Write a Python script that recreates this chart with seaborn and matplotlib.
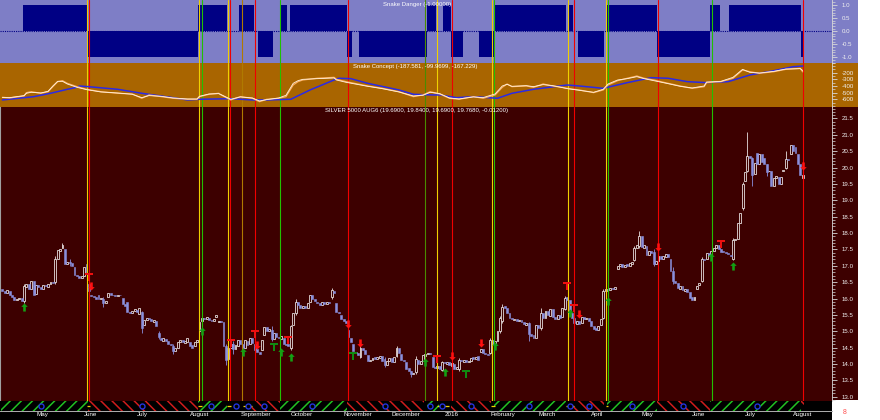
import numpy as np
import pandas as pd
import matplotlib
matplotlib.use("Agg")
import matplotlib.pyplot as plt
from matplotlib.path import Path
from matplotlib.patches import Rectangle
from matplotlib.ticker import MultipleLocator, FixedLocator, FuncFormatter
import seaborn as sns

# ------------------------------------------------------------------ data
start_date = "2015-04-13"
end_date = "2016-08-05"
holidays = ["2015-05-25", "2015-07-03", "2015-09-07", "2015-11-26", "2015-12-25",
            "2016-01-01", "2016-01-18", "2016-02-15", "2016-03-25", "2016-05-30",
            "2016-07-04"]
month_labels = ["May", "June", "July", "August", "September", "October", "November",
                "December", "2016", "February", "March", "April", "May", "June",
                "July", "August"]

opens = [
    16.28, 16.22, 16.18, 16.24, 16.12, 16.05, 15.95, 15.98, 16.02, 15.92,
    16.36, 16.45, 16.3, 16.55, 16.15, 16.42, 16.35, 16.28, 16.4, 16.36,
    16.45, 16.52, 16.5, 17.2, 17.45, 17.55, 17.5, 17.05, 17.12, 17.08,
    16.95, 16.72, 16.68, 16.62, 16.7, 17.05, 16.45, 16.12, 16.08, 16.05,
    16.1, 15.98, 16.0, 15.86, 16.05, 16.18, 16.12, 16.1, 16.08, 16.12,
    16.02, 15.82, 15.9, 15.6, 15.55, 15.62, 15.66, 15.52, 15.6, 15.2,
    15.35, 15.42, 15.38, 15.28, 15.3, 14.95, 14.8, 14.7, 14.76, 14.7,
    14.62, 14.56, 14.4, 14.5, 14.66, 14.72, 14.64, 14.68, 14.66, 14.58,
    14.55, 14.68, 15.02, 15.3, 15.42, 15.38, 15.42, 15.35, 15.32, 15.45,
    15.28, 15.32, 15.28, 14.55, 14.15, 14.48, 14.62, 14.45, 14.55, 14.72,
    14.62, 14.5, 14.7, 14.6, 14.78, 14.6, 14.45, 14.38, 14.42, 14.9,
    15.12, 15.0, 15.05, 14.75, 14.95, 14.82, 14.76, 14.8, 14.62, 14.6,
    14.48, 15.2, 15.55, 15.9, 15.8, 15.7, 15.78, 15.72, 15.88, 16.1,
    15.98, 15.9, 15.85, 15.8, 15.88, 15.84, 15.9, 16.05, 16.22, 15.85,
    15.6, 15.5, 15.38, 15.32, 15.05, 14.8, 14.6, 14.38, 14.35, 14.22,
    14.5, 14.42, 14.28, 14.08, 14.12, 14.2, 14.15, 14.18, 14.25, 14.15,
    13.98, 14.08, 14.18, 14.05, 14.25, 14.48, 14.3, 14.12, 14.05, 13.88,
    13.78, 13.7, 13.75, 14.12, 14.0, 14.08, 14.25, 14.3, 14.35, 14.22,
    13.92, 13.88, 13.95, 13.82, 14.05, 14.0, 14.06, 13.95, 14.0, 13.85,
    13.85, 14.12, 14.06, 14.12, 14.05, 14.1, 14.2, 14.15, 14.25, 14.38,
    14.45, 14.35, 14.3, 14.35, 14.72, 14.58, 14.7, 15.0, 15.3, 15.78,
    15.72, 15.55, 15.4, 15.34, 15.38, 15.32, 15.35, 15.28, 15.2, 15.25,
    14.92, 14.88, 14.8, 15.2, 15.1, 15.55, 15.4, 15.62, 15.48, 15.68,
    15.45, 15.38, 15.5, 15.45, 15.68, 16.05, 15.95, 15.55, 15.4, 15.22,
    15.3, 15.25, 15.45, 15.36, 15.4, 15.3, 15.15, 15.1, 15.05, 15.2,
    15.42, 16.22, 16.3, 16.25, 16.32, 16.28, 16.9, 17.0, 17.05, 16.95,
    17.04, 17.0, 17.05, 17.18, 17.55, 17.6, 17.9, 17.55, 17.6, 17.32,
    17.45, 17.42, 17.05, 17.15, 17.3, 17.22, 17.28, 17.35, 17.2, 16.85,
    16.55, 16.48, 16.3, 16.38, 16.22, 16.3, 16.2, 16.05, 15.95, 16.3,
    16.4, 16.55, 17.22, 17.2, 17.38, 17.32, 17.45, 17.55, 17.62, 17.5,
    17.45, 17.42, 17.38, 17.33, 17.22, 17.78, 17.82, 18.3, 18.75, 19.6,
    19.9, 20.35, 20.3, 19.8, 20.45, 20.1, 20.42, 20.3, 20.1, 19.88,
    19.9, 19.45, 19.68, 19.72, 19.5, 19.9, 19.98, 20.25, 20.4, 20.68,
    20.62, 20.42, 20.12, 19.69,
]
closes = [
    16.22, 16.18, 16.25, 16.12, 16.05, 15.95, 15.98, 16.02, 15.92, 16.38,
    16.45, 16.3, 16.55, 16.12, 16.42, 16.35, 16.28, 16.4, 16.38, 16.45,
    16.52, 16.48, 17.22, 17.48, 17.5, 17.62, 17.05, 17.12, 17.08, 17.0,
    16.72, 16.68, 16.62, 16.7, 16.95, 16.82, 16.22, 16.08, 16.05, 16.0,
    15.98, 16.02, 15.85, 15.92, 16.18, 16.12, 16.1, 16.08, 16.12, 16.1,
    15.82, 15.78, 15.6, 15.55, 15.62, 15.68, 15.6, 15.72, 15.1, 15.35,
    15.42, 15.38, 15.3, 15.35, 15.15, 14.82, 14.72, 14.78, 14.7, 14.62,
    14.58, 14.4, 14.48, 14.68, 14.72, 14.66, 14.7, 14.78, 14.55, 14.5,
    14.68, 14.72, 15.28, 15.42, 15.38, 15.44, 15.35, 15.3, 15.38, 15.5,
    15.32, 15.28, 14.55, 14.12, 14.5, 14.62, 14.45, 14.58, 14.72, 14.6,
    14.5, 14.72, 14.58, 14.78, 14.65, 14.42, 14.38, 14.3, 14.72, 15.12,
    15.0, 15.08, 14.75, 14.95, 14.82, 14.78, 14.85, 14.62, 14.58, 14.55,
    15.15, 15.55, 15.88, 15.8, 15.72, 15.78, 15.7, 15.85, 16.12, 15.98,
    15.92, 15.85, 15.8, 15.88, 15.82, 15.9, 15.86, 16.25, 16.18, 15.6,
    15.55, 15.38, 15.3, 15.25, 14.82, 14.68, 14.4, 14.35, 14.28, 14.5,
    14.42, 14.3, 14.08, 14.12, 14.18, 14.15, 14.2, 14.25, 14.1, 13.98,
    14.08, 14.18, 14.05, 14.22, 14.48, 14.35, 14.12, 14.08, 13.85, 13.78,
    13.68, 13.72, 14.15, 14.0, 14.1, 14.28, 14.32, 14.35, 14.3, 13.9,
    13.88, 13.95, 13.85, 14.05, 14.02, 14.06, 13.98, 14.02, 13.85, 13.9,
    14.12, 14.08, 14.12, 14.05, 14.1, 14.18, 14.15, 14.22, 14.12, 14.45,
    14.35, 14.3, 14.28, 14.72, 14.6, 14.7, 15.0, 15.42, 15.75, 15.72,
    15.55, 15.4, 15.36, 15.38, 15.3, 15.35, 15.28, 15.22, 15.25, 14.92,
    14.85, 14.78, 15.2, 15.1, 15.55, 15.42, 15.62, 15.5, 15.68, 15.45,
    15.38, 15.5, 15.42, 15.7, 16.02, 15.95, 15.55, 15.4, 15.25, 15.3,
    15.22, 15.45, 15.38, 15.4, 15.32, 15.15, 15.08, 15.05, 15.15, 15.38,
    16.22, 16.3, 16.25, 16.32, 16.28, 16.34, 17.0, 17.05, 16.95, 17.02,
    17.0, 17.08, 17.12, 17.55, 17.62, 17.92, 17.58, 17.62, 17.32, 17.45,
    17.4, 17.05, 17.15, 17.3, 17.22, 17.3, 17.35, 17.28, 16.85, 16.55,
    16.48, 16.32, 16.38, 16.25, 16.28, 16.2, 16.02, 15.95, 16.05, 16.38,
    16.48, 17.22, 17.18, 17.38, 17.32, 17.45, 17.55, 17.62, 17.5, 17.42,
    17.42, 17.38, 17.35, 17.3, 17.78, 17.82, 18.3, 18.6, 19.5, 19.85,
    20.35, 20.28, 19.78, 20.15, 20.1, 20.42, 20.18, 20.12, 19.85, 19.9,
    19.45, 19.68, 19.75, 19.5, 19.72, 19.92, 20.25, 20.22, 20.68, 20.5,
    20.45, 20.12, 19.78, 19.768,
]
# bars with visible wicks
wick_bars = [9, 22, 25, 28, 42, 58, 65, 71, 93, 96, 105, 112, 120, 122, 137, 144,
             149, 159, 164, 170, 172, 183, 190, 203, 207, 208, 219, 224, 234, 250,
             263, 265, 271, 279, 291, 304, 308, 310, 312, 318, 326, 333]
wick_highs = [16.45, 17.3, 17.7, 17.2, 16.05, 15.62, 15.0, 14.6, 14.6, 14.7, 14.65,
              15.15, 15.2, 15.98, 16.32, 15.1, 14.55, 14.22, 14.55, 13.8, 14.25,
              14.1, 14.18, 14.78, 15.48, 15.82, 15.28, 15.7, 16.08, 16.28, 17.6,
              18.05, 17.5, 16.95, 17.28, 17.85, 19.55, 21.1, 20.32, 20.12, 20.5,
              19.84]
wick_lows = [15.85, 16.45, 17.55, 17.0, 15.75, 14.95, 14.75, 14.3, 13.98, 14.3,
             14.28, 14.7, 14.42, 15.5, 16.0, 14.7, 14.18, 13.9, 14.2, 13.6, 13.7,
             13.8, 13.8, 14.32, 14.95, 15.25, 14.7, 15.05, 15.65, 15.38, 17.15,
             17.55, 17.0, 16.45, 16.5, 17.18, 18.7, 19.85, 19.45, 19.75, 19.95,
             19.69]

# Snake Danger: run-length (first bar of run, value)
danger_start = [0, 9, 36, 82, 94, 99, 105, 107, 113, 116, 119, 120, 144, 146, 149,
                177, 181, 184, 187, 192, 199, 205, 235, 236, 238, 240, 251, 252,
                273, 295, 299, 303, 333]
danger_value = [0, 1, -1, 1, 0, 1, 0, -1, 0, 1, 0, 1, -1, 0, -1, 1, 0, 1, -1, 0,
                -1, 1, 0, 1, 0, -1, 0, 1, -1, 1, 0, 1, -1]

# Snake Concept lines (bar index, value)
fast_idx = [0, 3, 9, 10, 12, 16, 19, 21, 23, 25, 27, 31, 35, 41, 48, 54, 58, 61, 66,
            71, 77, 81, 82, 86, 90, 91, 95, 99, 104, 107, 110, 115, 118, 121, 123,
            125, 131, 138, 139, 143, 152, 158, 165, 171, 175, 178, 182, 186, 190,
            196, 200, 205, 208, 210, 212, 218, 221, 225, 229, 233, 235, 240, 246,
            250, 252, 256, 260, 264, 267, 271, 277, 282, 287, 292, 293, 299, 304,
            308, 311, 315, 321, 326, 332, 333]
fast_orange = [-570, -580, -550, -500, -486, -510, -486, -410, -335, -320, -360,
               -410, -450, -486, -510, -520, -585, -535, -560, -585, -600, -600,
               -560, -525, -510, -535, -610, -560, -585, -636, -600, -585, -560,
               -385, -335, -310, -284, -270, -300, -335, -400, -435, -486, -560,
               -535, -486, -520, -585, -600, -560, -585, -535, -420, -370, -410,
               -400, -420, -370, -400, -420, -435, -460, -500, -460, -385, -320,
               -284, -250, -284, -310, -360, -400, -435, -410, -350, -335, -284,
               -160, -185, -210, -185, -150, -135, -187.581]
fast_white = [-575, -575, -545, -510, -495, -505, -480, -400, -330, -330, -370,
              -420, -455, -490, -505, -525, -575, -545, -555, -580, -595, -595,
              -555, -520, -515, -530, -600, -565, -580, -625, -605, -580, -540,
              -360, -320, -300, -290, -280, -310, -345, -405, -440, -490, -550,
              -540, -495, -515, -580, -595, -565, -575, -520, -400, -375, -405,
              -395, -410, -380, -395, -425, -440, -465, -495, -450, -370, -310,
              -290, -260, -290, -320, -365, -405, -430, -400, -340, -330, -270,
              -150, -195, -205, -180, -145, -140, -167.229]
slow_idx = [0, 13, 20, 27, 31, 32, 36, 48, 58, 71, 77, 82, 95, 104, 110, 120, 128,
            138, 140, 145, 152, 165, 171, 179, 182, 189, 196, 206, 212, 221, 235,
            240, 250, 260, 270, 277, 285, 293, 302, 311, 321, 329, 333]
slow_blue = [-610, -561, -510, -450, -420, -400, -411, -450, -510, -576, -610,
             -600, -591, -610, -610, -600, -460, -310, -284, -290, -360, -460,
             -525, -535, -535, -576, -560, -585, -510, -450, -385, -400, -435,
             -350, -275, -284, -335, -350, -335, -235, -170, -110, -99.9699]

# signal lines (bar position, kind)
sig_pos = [35.4, 36.2, 81.9, 82.9, 93.9, 94.5, 99.7, 104.9, 115.5, 143.8, 175.9,
           180.9, 186.9, 203.7, 204.6, 235.2, 237.9, 251.0, 251.8, 272.8, 295.1, 333.2]
sig_kind = ["y", "r", "y", "g", "y", "r", "o", "r", "g", "r", "dg", "y", "r", "y",
            "g", "y", "r", "y", "g", "r", "g", "r"]

# trade markers (bar, price)
buy_bars = [9, 83, 100, 116, 120, 176, 184, 205, 236, 252, 295, 304]
buy_px = [15.75, 15.0, 14.37, 14.37, 14.21, 14.06, 13.76, 14.55, 15.55, 15.92,
          17.27, 16.99]
sell_bars = [37, 106, 144, 149, 187, 199, 240, 273, 333]
sell_px = [16.37, 14.58, 15.22, 14.65, 14.24, 14.65, 15.54, 17.56, 20.04]
red_stop_bars = [36, 95, 105, 119, 181, 235, 238, 299]
red_stop_px = [16.67, 14.65, 14.93, 14.72, 14.14, 16.37, 15.72, 17.68]
green_stop_bars = [113, 146, 193]
green_stop_px = [14.53, 14.23, 13.68]

# bottom trend strip
strip_start = [0, 36, 82, 104, 116, 144, 177, 187, 205, 238, 252, 273, 295, 333]
strip_end = [36, 82, 94, 116, 144, 176, 182, 204, 235, 251, 273, 295, 333, 334]
strip_kind = ["g", "r", "g", "r", "g", "r", "g", "r", "g", "r", "g", "r", "g", "r"]
circle_bars = [16, 58, 87, 97, 102, 109, 129, 159, 178, 183, 195, 219, 236, 244,
               262, 283, 314]
ydash_start = [35, 81.5, 93.5, 100, 181, 203.5, 234.5, 251]
ydash_end = [36.5, 83, 95, 104, 186, 205, 238, 252]

# ------------------------------------------------------------------ style
sns.set_theme(style="white")
plt.rcParams["font.family"] = ["Liberation Sans", "DejaVu Sans"]
plt.rcParams["axes.unicode_minus"] = False
plt.rcParams["hatch.linewidth"] = 1.1

TOPBG = "#7e7ec6"
NAVY = "#000084"
MIDBG = "#a96500"
MAINBG = "#3d0000"
TICKC = "#d8d8d8"
SIGC = {"y": "#f0d000", "r": "#f00000", "g": "#22c000", "o": "#b07a00", "dg": "#4a8c00"}

W, H = 880, 420


def fr(x0, y0, x1, y1):
    return [x0 / W, 1 - y1 / H, (x1 - x0) / W, (y1 - y0) / H]


n = len(closes)
dates = pd.bdate_range(start_date, end_date, freq="C", holidays=holidays)[:n]
idx = np.arange(n)
o = np.array(opens)
c = np.array(closes)

danger = np.zeros(n)
for k, s in enumerate(danger_start):
    e = danger_start[k + 1] if k + 1 < len(danger_start) else n
    danger[s:e] = danger_value[k]

XL = (-1.0, 345.2)

fig = plt.figure(figsize=(8.8, 4.2), dpi=100, facecolor="white")
ax_top = fig.add_axes(fr(0, 0, 832, 62.7))
ax_mid = fig.add_axes(fr(0, 62.7, 832, 107))
ax_main = fig.add_axes(fr(0, 107, 832, 401))
ax_strip = fig.add_axes(fr(0, 401, 832, 410.5))

# gutters and bottom black band
for (y0, y1, col) in [(0, 62.7, TOPBG), (62.7, 107, MIDBG), (107, 400, MAINBG)]:
    fig.add_artist(Rectangle((832 / W, 1 - y1 / H), 26 / W, (y1 - y0) / H,
                             transform=fig.transFigure, color=col, zorder=-5, lw=0))
fig.add_artist(Rectangle((0, 0), 832 / W, 9.5 / H, transform=fig.transFigure,
                         color="black", zorder=-5, lw=0))


def style_right(ax, major, minor, fmt, bg):
    ax.set_facecolor(bg)
    ax.set_xlim(*XL)
    ax.set_xticks([])
    ax.yaxis.tick_right()
    ax.yaxis.set_major_locator(FixedLocator(major))
    ax.yaxis.set_minor_locator(MultipleLocator(minor))
    ax.yaxis.set_major_formatter(FuncFormatter(fmt))
    ax.tick_params(axis="y", which="major", direction="out", length=3.6, width=0.6,
                   color=TICKC, labelcolor="#f0f0f0", labelsize=4.4, pad=3.2)
    ax.tick_params(axis="y", which="minor", direction="out", length=1.8, width=0.5,
                   color=TICKC)
    for s in ["top", "left", "bottom"]:
        ax.spines[s].set_visible(False)
    ax.spines["right"].set_color(TICKC)
    ax.spines["right"].set_linewidth(0.6)
    ax.set_xlabel("")
    ax.set_ylabel("")


# ---- top: Snake Danger
ax_top.bar(idx, danger, width=1.0, color=NAVY, linewidth=0, zorder=2)
ax_top.axhline(0, color=NAVY, lw=0.8, ls=(0, (1, 1)), zorder=2)
ax_top.set_ylim(-1.2, 1.19)
style_right(ax_top, [-1, -0.5, 0, 0.5, 1.0], 0.1, lambda v, p: f"{v:.1f}", TOPBG)

# ---- middle: Snake Concept
sns.lineplot(x=slow_idx, y=slow_blue, ax=ax_mid, color="#2a2ae6", linewidth=1.1,
             estimator=None, sort=False, zorder=5)
sns.lineplot(x=fast_idx, y=fast_orange, ax=ax_mid, color="#ffb060", linewidth=0.9,
             estimator=None, sort=False, zorder=6)
sns.lineplot(x=fast_idx, y=fast_white, ax=ax_mid, color="#fff2e0", linewidth=0.6,
             estimator=None, sort=False, zorder=7)
ax_mid.set_ylim(-716, -50)
style_right(ax_mid, [-600, -500, -400, -300, -200], 50, lambda v, p: f"{v:.0f}", MIDBG)

# ---- main: candles
up = c >= o
down = ~up
wb = np.array(wick_bars)
wick_cols = ["#e6dede" if up[b] else "#8a8fdc" for b in wb]
ax_main.vlines(wb, wick_lows, wick_highs, colors=wick_cols, lw=0.6, zorder=3)
ax_main.bar(idx[up], (c - o)[up], bottom=o[up], width=0.8, facecolor=MAINBG,
            edgecolor="#e6dede", linewidth=0.6, zorder=4)
ax_main.bar(idx[down], (o - c)[down], bottom=c[down], width=0.8, facecolor="#8a8fdc",
            edgecolor="#8a8fdc", linewidth=0.4, zorder=4)
ax_main.set_ylim(12.87, 21.85)
style_right(ax_main, np.arange(13.0, 21.51, 0.5), 0.1, lambda v, p: f"{v:.1f}", MAINBG)
ax_main.spines["left"].set_visible(True)
ax_main.spines["left"].set_color("#a0a0a0")
ax_main.spines["left"].set_linewidth(0.8)

up_arrow = Path([(0, 1), (-0.8, 0.15), (-0.32, 0.15), (-0.32, -1), (0.32, -1),
                 (0.32, 0.15), (0.8, 0.15), (0, 1)],
                [Path.MOVETO] + [Path.LINETO] * 6 + [Path.CLOSEPOLY])
down_arrow = Path([(x, -y) for x, y in up_arrow.vertices], up_arrow.codes)
tbox = Path([(-0.8, 1), (0.8, 1), (0.8, 0.35), (0.2, 0.35), (0.2, -1), (-0.2, -1),
             (-0.2, 0.35), (-0.8, 0.35), (-0.8, 1)],
            [Path.MOVETO] + [Path.LINETO] * 7 + [Path.CLOSEPOLY])
ax_main.scatter(buy_bars, buy_px, marker=up_arrow, s=34, color="#14a014", lw=0, zorder=6)
ax_main.scatter(sell_bars, sell_px, marker=down_arrow, s=34, color="#ff1010", lw=0, zorder=6)
ax_main.scatter(red_stop_bars, red_stop_px, marker=tbox, s=40, color="#ee1010", lw=0, zorder=6)
ax_main.scatter(green_stop_bars, green_stop_px, marker=tbox, s=40, color="#118a11", lw=0, zorder=6)

# ---- vertical signal lines
for ax in (ax_top, ax_mid, ax_main):
    for p, k in zip(sig_pos, sig_kind):
        ax.axvline(p, color=SIGC[k], lw=0.8, zorder=4)

# ---- strip
ax_strip.set_facecolor("black")
ax_strip.set_xlim(*XL)
ax_strip.set_ylim(0, 1)
for s, e, k in zip(strip_start, strip_end, strip_kind):
    if k == "g":
        ax_strip.axvspan(s - 0.5, e - 0.5, facecolor="black", edgecolor="#22c022",
                         hatch="///", lw=0, zorder=1)
    else:
        ax_strip.axvspan(s - 0.5, e - 0.5, facecolor="black", edgecolor="#d01c1c",
                         hatch="\\\\\\", lw=0, zorder=1)
ax_strip.hlines([0.5] * len(ydash_start), ydash_start, ydash_end, color="#f0d000",
                lw=0.9, zorder=2)
ax_strip.scatter(circle_bars, [0.5] * len(circle_bars), s=13, facecolors="black",
                 edgecolors="#2233dd", linewidths=1.0, zorder=3)
ax_strip.set_yticks([])
for s in ["top", "left", "right"]:
    ax_strip.spines[s].set_visible(False)
ax_strip.spines["bottom"].set_color("#b0b0b0")
ax_strip.spines["bottom"].set_linewidth(0.7)

month_pos = []
for per in pd.period_range("2015-05", "2016-08", freq="M"):
    month_pos.append(int(np.argmax(dates >= per.start_time)))
week_pos = [0] + [i for i in range(1, n) if dates[i].weekday() < dates[i - 1].weekday()]
ax_strip.set_xticks(month_pos)
ax_strip.set_xticklabels(month_labels, ha="left")
ax_strip.set_xticks(week_pos, minor=True)
ax_strip.tick_params(axis="x", which="major", direction="out", length=7, width=0.6,
                     color="#c0c0c0", labelcolor="white", labelsize=4.5, pad=-5.6)
ax_strip.tick_params(axis="x", which="minor", direction="out", length=2.2, width=0.5,
                     color="#c0c0c0")

# ---- texts
fig.text(383 / W, 1 - 4.8 / H, "Snake Danger (-1.00000)", color="white",
         fontsize=4.3, va="center", ha="left")
fig.text(353 / W, 1 - 66.8 / H, "Snake Concept (-187.581, -99.9699, -167.229)",
         color="white", fontsize=4.3, va="center", ha="left")
fig.text(325 / W, 1 - 110.8 / H,
         "SILVER 5000 AUG6 (19.6900, 19.8400, 19.6900, 19.7680, -0.01200)",
         color="white", fontsize=4.3, va="center", ha="left")
fig.text(845 / W, 1 - 413 / H, "8", color="#ff5050", fontsize=5, va="center",
         ha="center")

fig.savefig("out.png", dpi=100, facecolor="white")
